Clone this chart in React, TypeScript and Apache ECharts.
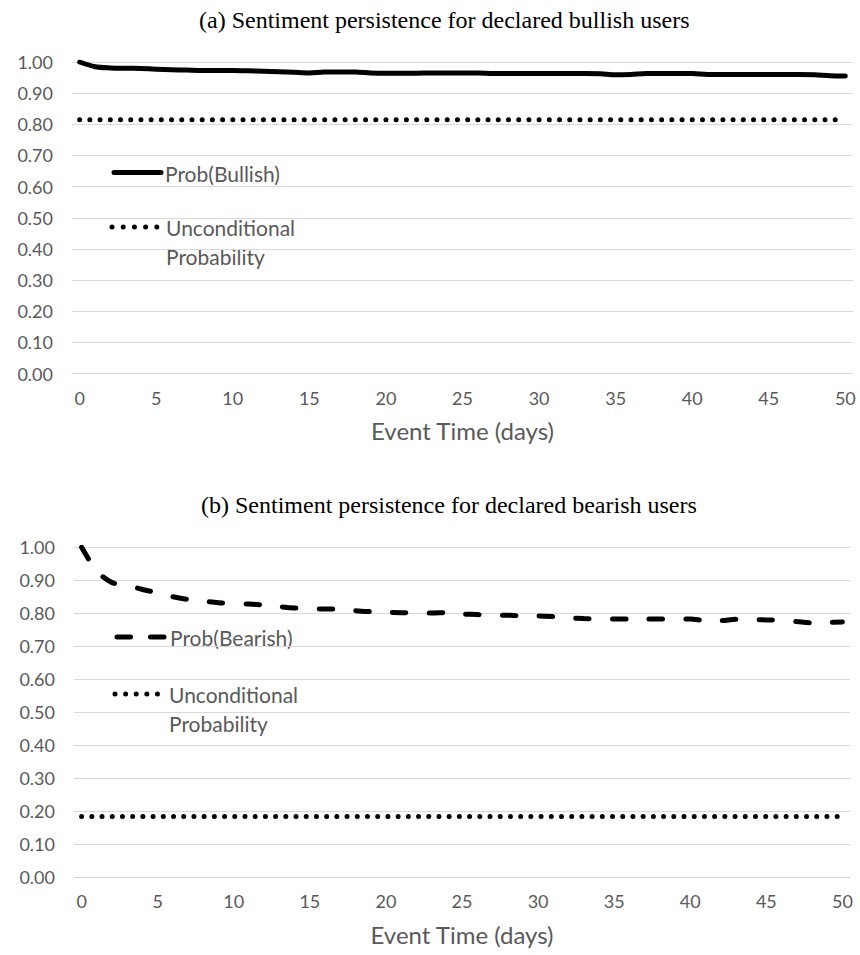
import React, { useEffect, useRef } from "react";
import * as echarts from "echarts";

const days: string[] = Array.from({ length: 51 }, (_, i) => String(i));

const titleA = "(a) Sentiment persistence for declared bullish users";
const titleB = "(b) Sentiment persistence for declared bearish users";
const xName = "Event Time (days)";

const probBullish: number[] = [
  1.0, 0.985, 0.981, 0.98, 0.979, 0.977, 0.975, 0.974, 0.973, 0.973,
  0.973, 0.972, 0.97, 0.969, 0.967, 0.965, 0.968, 0.968, 0.968, 0.965,
  0.964, 0.964, 0.964, 0.965, 0.965, 0.965, 0.965, 0.963, 0.963, 0.963,
  0.963, 0.963, 0.963, 0.963, 0.962, 0.959, 0.96, 0.963, 0.963, 0.963,
  0.963, 0.96, 0.96, 0.96, 0.96, 0.96, 0.96, 0.96, 0.959, 0.956,
  0.955,
];
const uncondBullish = 0.815;

const probBearish: number[] = [
  1.0, 0.928, 0.893, 0.885, 0.872, 0.862, 0.85, 0.842, 0.837, 0.832,
  0.83, 0.828, 0.825, 0.82, 0.816, 0.814, 0.813, 0.813, 0.808, 0.805,
  0.803, 0.802, 0.801, 0.801, 0.802, 0.798, 0.796, 0.794, 0.794, 0.792,
  0.792, 0.79, 0.786, 0.784, 0.783, 0.783, 0.783, 0.783, 0.783, 0.783,
  0.783, 0.778, 0.778, 0.782, 0.781, 0.78, 0.779, 0.775, 0.771, 0.772,
  0.774,
];
const uncondBearish = 0.184;

const legendA = ["Prob(Bullish)", "Unconditional", "Probability"];
const legendB = ["Prob(Bearish)", "Unconditional", "Probability"];

const FONT = "Lato";
const GREY = "#595959";
const GRID = "#d9d9d9";

export default function App() {
  const ref = useRef<HTMLDivElement>(null);

  useEffect(() => {
    if (!ref.current) return;
    const chart = echarts.init(ref.current, undefined, { renderer: "svg" });

    const titleStyle = {
      fontFamily: "Liberation Serif",
      fontSize: 24,
      fontWeight: "normal" as const,
      color: "#000",
    };

    const xAxisFor = (gi: number) => ({
      type: "category" as const,
      gridIndex: gi,
      data: days,
      boundaryGap: true,
      axisLine: { show: true, lineStyle: { color: GRID, width: 1 } },
      axisTick: { show: false },
      axisLabel: {
        interval: 4,
        color: GREY,
        fontFamily: FONT,
        fontSize: 18,
        margin: 15,
      },
      name: xName,
      nameLocation: "middle" as const,
      nameGap: 45,
      nameTextStyle: { color: GREY, fontFamily: FONT, fontSize: 24 },
      splitLine: { show: false },
    });

    const yAxisFor = (gi: number) => ({
      type: "value" as const,
      gridIndex: gi,
      min: 0,
      max: 1,
      interval: 0.1,
      axisLine: { show: false },
      axisTick: { show: false },
      axisLabel: {
        color: GREY,
        fontFamily: FONT,
        fontSize: 18,
        margin: 19,
        formatter: (v: number) => v.toFixed(2),
      },
      splitLine: { show: true, lineStyle: { color: GRID, width: 1 } },
    });

    const solid = { color: "#000", width: 5, cap: "round" as const, join: "round" as const };
    const dotted = { color: "#000", width: 5, type: [0.01, 10.2], cap: "round" as const };
    const dashed = { color: "#000", width: 5, type: [13.5, 23.2], cap: "round" as const };

    const legendText = (text: string, x: number, y: number) => ({
      type: "text",
      style: {
        text,
        x,
        y,
        fill: GREY,
        font: `21px ${FONT}`,
        verticalAlign: "middle",
        textAlign: "left",
      },
    });

    const option: any = {
      animation: false,
      backgroundColor: "#fff",
      title: [
        { text: titleA, left: 199, top: 8, padding: 0, textStyle: titleStyle },
        { text: titleB, left: 201, top: 493, padding: 0, textStyle: titleStyle },
      ],
      grid: [
        { left: 72, right: 7, top: 62, height: 311.5 },
        { left: 74, right: 10, top: 547.3, height: 330 },
      ],
      xAxis: [xAxisFor(0), xAxisFor(1)],
      yAxis: [yAxisFor(0), yAxisFor(1)],
      series: [
        {
          name: "Prob(Bullish)",
          type: "line",
          xAxisIndex: 0,
          yAxisIndex: 0,
          data: probBullish,
          showSymbol: false,
          smooth: 0.3,
          lineStyle: solid,
        },
        {
          name: "Unconditional Probability (bullish)",
          type: "line",
          xAxisIndex: 0,
          yAxisIndex: 0,
          data: days.map(() => uncondBullish),
          showSymbol: false,
          lineStyle: dotted,
        },
        {
          name: "Prob(Bearish)",
          type: "line",
          xAxisIndex: 1,
          yAxisIndex: 1,
          data: probBearish,
          showSymbol: false,
          smooth: 0.3,
          lineStyle: dashed,
        },
        {
          name: "Unconditional Probability (bearish)",
          type: "line",
          xAxisIndex: 1,
          yAxisIndex: 1,
          data: days.map(() => uncondBearish),
          showSymbol: false,
          lineStyle: dotted,
        },
      ],
      graphic: [
        {
          type: "line",
          shape: { x1: 114, y1: 172.5, x2: 161, y2: 172.5 },
          style: { stroke: "#000", lineWidth: 5, lineCap: "round" },
        },
        legendText(legendA[0], 165, 173),
        {
          type: "line",
          shape: { x1: 112, y1: 227, x2: 158, y2: 227 },
          style: { stroke: "#000", lineWidth: 5, lineDash: [0.01, 11.2], lineCap: "round" },
        },
        legendText(legendA[1], 166, 227),
        legendText(legendA[2], 166, 256),
        {
          type: "line",
          shape: { x1: 117, y1: 637, x2: 167, y2: 637 },
          style: { stroke: "#000", lineWidth: 5, lineDash: [13.5, 20], lineCap: "round" },
        },
        legendText(legendB[0], 170, 637),
        {
          type: "line",
          shape: { x1: 115, y1: 694, x2: 158, y2: 694 },
          style: { stroke: "#000", lineWidth: 5, lineDash: [0.01, 10.6], lineCap: "round" },
        },
        legendText(legendB[1], 169, 694),
        legendText(legendB[2], 169, 723),
      ],
    };

    chart.setOption(option);
    return () => chart.dispose();
  }, []);

  return (
    <div
      ref={ref}
      style={{ position: "fixed", left: 0, top: 0, width: 860, height: 955, background: "#fff" }}
    />
  );
}
